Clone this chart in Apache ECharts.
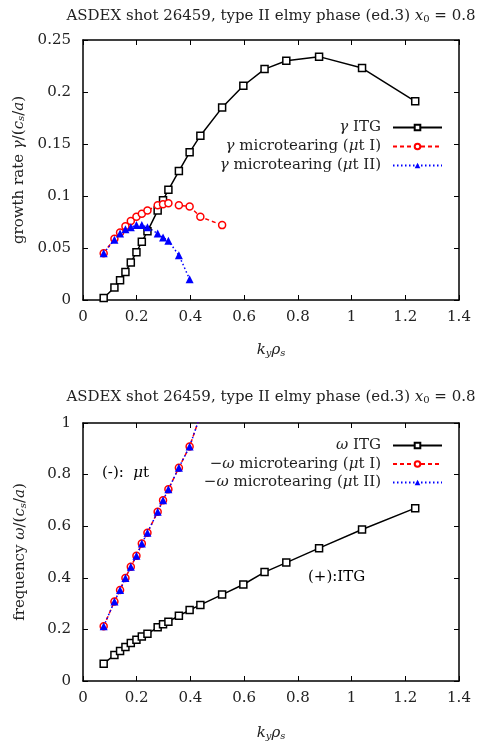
<!DOCTYPE html>
<html>
<head>
<meta charset="utf-8">
<script src="https://cdn.jsdelivr.net/npm/echarts@6/dist/echarts.min.js"></script>
<style>
  html, body { margin: 0; padding: 0; background: #fff; }
  #chart { width: 493px; height: 742px; }
</style>
</head>
<body>
<div id="chart"></div>
<script>
// Wavenumber grid k_y rho_s for each scan
const kyITG = [0.077, 0.117, 0.138, 0.158, 0.178, 0.199, 0.219, 0.240, 0.278, 0.298, 0.318, 0.357, 0.397, 0.437, 0.518, 0.597, 0.676, 0.757, 0.879, 1.039, 1.237];
const kyMT1 = [0.077, 0.117, 0.138, 0.158, 0.178, 0.199, 0.219, 0.240, 0.278, 0.298, 0.318, 0.357, 0.397, 0.437, 0.518];
const kyMT2 = [0.077, 0.117, 0.138, 0.158, 0.178, 0.199, 0.219, 0.240, 0.278, 0.298, 0.318, 0.357, 0.397];
const kyMT1freq = [0.077, 0.117, 0.138, 0.158, 0.178, 0.199, 0.219, 0.240, 0.278, 0.298, 0.318, 0.357, 0.397, 0.437, 0.518];
const kyMT2freq = [0.077, 0.117, 0.138, 0.158, 0.178, 0.199, 0.219, 0.240, 0.278, 0.298, 0.318, 0.357, 0.397, 0.437];

// Growth rates gamma / (c_s / a)
const gammaITG = [0.002, 0.012, 0.019, 0.027, 0.036, 0.046, 0.056, 0.066, 0.086, 0.096, 0.106, 0.124, 0.142, 0.158, 0.185, 0.206, 0.222, 0.230, 0.234, 0.223, 0.191];
const gammaMT1 = [0.045, 0.059, 0.065, 0.071, 0.076, 0.080, 0.083, 0.086, 0.091, 0.092, 0.093, 0.091, 0.090, 0.080, 0.072];
const gammaMT2 = [0.045, 0.058, 0.064, 0.068, 0.070, 0.072, 0.072, 0.070, 0.064, 0.060, 0.057, 0.043, 0.020];

// Real frequencies omega / (c_s / a); microtearing branch plotted as -omega
const omegaITG = [0.067, 0.101, 0.116, 0.132, 0.147, 0.160, 0.172, 0.183, 0.208, 0.220, 0.230, 0.253, 0.275, 0.295, 0.335, 0.374, 0.422, 0.459, 0.515, 0.587, 0.670];
const omegaMT1 = [0.212, 0.308, 0.353, 0.399, 0.443, 0.485, 0.533, 0.575, 0.656, 0.701, 0.743, 0.827, 0.909, 1.030, 1.200];
const omegaMT2 = [0.212, 0.308, 0.353, 0.399, 0.443, 0.485, 0.533, 0.575, 0.656, 0.701, 0.743, 0.827, 0.909, 1.030];

const xTicks = { min: 0, max: 1.4, interval: 0.2 };
const yTicksTop = { min: 0, max: 0.25, interval: 0.05 };
const yTicksBottom = { min: 0, max: 1, interval: 0.2 };

const FONT = '"DejaVu Serif", "Liberation Serif", serif';
const INK = '#222';

const pairs = (xs, ys) => xs.map((x, i) => [x, ys[i]]);

const rich = {
  it: { fontStyle: 'italic', fontWeight: 'normal', fontFamily: FONT, fontSize: 15, color: INK },
  sub: { fontStyle: 'italic', fontWeight: 'normal', fontFamily: FONT, fontSize: 10, color: INK, padding: [6, 0, 0, 0] },
  subr: { fontWeight: 'normal', fontFamily: FONT, fontSize: 10, color: INK, padding: [6, 0, 0, 0] },
  n: { fontWeight: 'normal', fontFamily: FONT, fontSize: 15, color: INK }
};

const titleText = '{n|ASDEX shot 26459, type II elmy phase (ed.3) }{it|x}{subr|0}{n| = 0.8}';
const kyLabel = '{it|k}{sub|y}{it|ρ}{sub|s}';

function frame(gridIndex, yt, yName, xGap) {
  const axisLine = { show: true, onZero: false, lineStyle: { color: '#000', width: 1.5 } };
  const tick = { show: true, inside: true, length: 5, lineStyle: { color: '#000', width: 1 } };
  const label = { fontFamily: FONT, fontSize: 15, color: INK };
  return {
    x: [
      {
        type: 'value', gridIndex, position: 'bottom', ...xTicks,
        axisLine, axisTick: tick, splitLine: { show: false },
        axisLabel: { ...label, margin: 10 },
        name: kyLabel, nameLocation: 'middle', nameGap: xGap,
        nameTextStyle: { rich }
      },
      {
        type: 'value', gridIndex, position: 'top', ...xTicks,
        axisLine, axisTick: tick, splitLine: { show: false }, axisLabel: { show: false }
      }
    ],
    y: [
      {
        type: 'value', gridIndex, position: 'left', ...yt,
        axisLine, axisTick: tick, splitLine: { show: false },
        axisLabel: { ...label, margin: 12 },
        name: yName, nameLocation: 'middle', nameRotate: 90, nameGap: 55,
        nameTextStyle: { rich }
      },
      {
        type: 'value', gridIndex, position: 'right', ...yt,
        axisLine, axisTick: tick, splitLine: { show: false }, axisLabel: { show: false }
      }
    ]
  };
}

const upperFrame = frame(0, yTicksTop, '{n|growth rate }{it|γ}{n|/(}{it|c}{sub|s}{n|/}{it|a}{n|)}', 42);
const lowerFrame = frame(1, yTicksBottom, '{n|frequency }{it|ω}{n|/(}{it|c}{sub|s}{n|/}{it|a}{n|)}', 44);

const styleITG = {
  symbol: 'rect', symbolSize: 7,
  lineStyle: { color: '#000', width: 1.5, type: 'solid' },
  itemStyle: { color: '#fff', borderColor: '#000', borderWidth: 1.5 }
};
const styleMT1 = {
  symbol: 'circle', symbolSize: 7,
  lineStyle: { color: '#ff0000', width: 1.5, type: [4, 3] },
  itemStyle: { color: '#fff', borderColor: '#ff0000', borderWidth: 1.5 }
};
const styleMT2 = {
  symbol: 'triangle', symbolSize: 8,
  lineStyle: { color: '#0000ff', width: 1.5, type: [1.5, 2.5] },
  itemStyle: { color: '#0000ff', borderColor: '#0000ff', borderWidth: 0 }
};

function line(name, xi, yi, data, style) {
  return {
    type: 'line', name, xAxisIndex: xi, yAxisIndex: yi, data,
    showAllSymbol: true, clip: true, animation: false, z: 3,
    ...style
  };
}

const legendRich = {
  n: { fontFamily: FONT, fontSize: 15, color: INK, lineHeight: 16 },
  it: { fontFamily: FONT, fontSize: 15, fontStyle: 'italic', color: INK, lineHeight: 16 }
};
const legendFmt = {
  'γ ITG': '{it|γ}{n| ITG}',
  'γ microtearing (μt I)': '{it|γ}{n| microtearing (}{it|μ}{n|t I)}',
  'γ microtearing (μt II)': '{it|γ}{n| microtearing (}{it|μ}{n|t II)}',
  'ω ITG': '{it|ω}{n| ITG}',
  '−ω microtearing (μt I)': '{n|−}{it|ω}{n| microtearing (}{it|μ}{n|t I)}',
  '−ω microtearing (μt II)': '{n|−}{it|ω}{n| microtearing (}{it|μ}{n|t II)}'
};
function legend(names, topPx, gap) {
  return {
    data: names, orient: 'vertical', align: 'right', right: 50, top: topPx,
    padding: 0, itemWidth: 49, itemHeight: 7, itemGap: gap, selectedMode: false,
    formatter: n => legendFmt[n],
    textStyle: { rich: legendRich, padding: [0, 7, 0, 0] }
  };
}

const option = {
  backgroundColor: '#fff',
  animation: false,
  title: [
    { text: titleText, left: 266, top: 3, textAlign: 'center', textStyle: { rich, fontWeight: 'normal' } },
    { text: titleText, left: 266, top: 384, textAlign: 'center', textStyle: { rich, fontWeight: 'normal' } }
  ],
  grid: [
    { left: 83, top: 40, width: 376, height: 260, containLabel: false },
    { left: 83, top: 423, width: 376, height: 259, containLabel: false }
  ],
  xAxis: [...upperFrame.x, ...lowerFrame.x],
  yAxis: [...upperFrame.y, ...lowerFrame.y],
  legend: [
    legend(['γ ITG', 'γ microtearing (μt I)', 'γ microtearing (μt II)'], 120, 4),
    legend(['ω ITG', '−ω microtearing (μt I)', '−ω microtearing (μt II)'], 438, 3.5)
  ],
  graphic: [
    { type: 'text', left: 102, top: 466, style: { text: '{n|(-):  }{it|μ}{n|t}', rich } },
    { type: 'text', left: 308, top: 570, style: { text: '{n|(+):ITG}', rich } }
  ],
  series: [
    line('γ ITG', 0, 0, pairs(kyITG, gammaITG), styleITG),
    line('γ microtearing (μt I)', 0, 0, pairs(kyMT1, gammaMT1), styleMT1),
    line('γ microtearing (μt II)', 0, 0, pairs(kyMT2, gammaMT2), styleMT2),
    line('ω ITG', 2, 2, pairs(kyITG, omegaITG), styleITG),
    line('−ω microtearing (μt I)', 2, 2, pairs(kyMT1freq, omegaMT1), styleMT1),
    line('−ω microtearing (μt II)', 2, 2, pairs(kyMT2freq, omegaMT2), styleMT2)
  ]
};

const chart = echarts.init(document.getElementById('chart'), null, { renderer: 'canvas' });
chart.setOption(option);
</script>
</body>
</html>
